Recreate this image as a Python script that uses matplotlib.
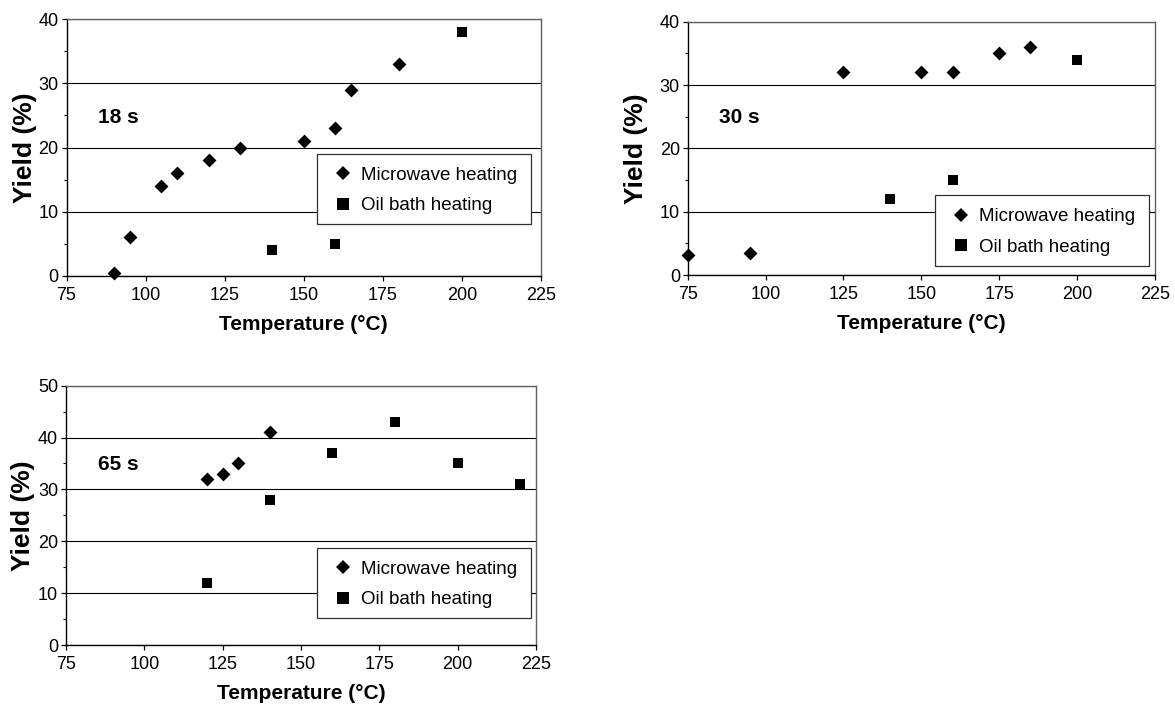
import matplotlib
matplotlib.use("Agg")
import matplotlib.pyplot as plt
from matplotlib.ticker import MultipleLocator
from matplotlib.patches import Rectangle
from matplotlib.lines import Line2D

plt.rcParams['font.family'] = ['Liberation Sans', 'DejaVu Sans']

# Panel 1: 18 s
mw18_t = [90, 95, 105, 110, 120, 130, 150, 160, 165, 180]
mw18_y = [0.5, 6, 14, 16, 18, 20, 21, 23, 29, 33]
oil18_t = [140, 160, 200]
oil18_y = [4, 5, 38]

# Panel 2: 30 s
mw30_t = [75, 95, 125, 150, 160, 175, 185]
mw30_y = [3.2, 3.4, 32, 32, 32, 35, 36]
oil30_t = [140, 160, 200]
oil30_y = [12, 15, 34]

# Panel 3: 65 s
mw65_t = [120, 125, 130, 140]
mw65_y = [32, 33, 35, 41]
oil65_t = [120, 140, 160, 180, 200, 220]
oil65_y = [12, 28, 37, 43, 35, 31]

labels = ["18 s", "30 s", "65 s"]
ymaxes = [40, 40, 50]
xticks = [75, 100, 125, 150, 175, 200, 225]
series_names = ["Microwave heating", "Oil bath heating"]

W, H = 1175, 704
fig = plt.figure(figsize=(W / 100, H / 100), dpi=100)

# layout (pixels): axes left, top, right, bottom
rects = [(66.5, 19, 541, 276), (687.7, 21.7, 1155, 275), (66, 385.7, 536, 645)]
# legend boxes (pixels): left, top, right, bottom
leg_px = [(316.7, 154, 530.7, 224), (934.6, 195, 1148.5, 265.7),
          (316.7, 547.7, 530.7, 618.3)]
# ylabel right-edge offset from axis (pixels)
ylab_off = [-29.5, -40, -31]
label_pos = [(85, 24.6), (84.9, 24.9), (85.3, 34.9)]

data = [(mw18_t, mw18_y, oil18_t, oil18_y),
        (mw30_t, mw30_y, oil30_t, oil30_y),
        (mw65_t, mw65_y, oil65_t, oil65_y)]

LEG_FS = 13.5
fs_px = LEG_FS * 100 / 72.0

for i, (l, t, r, b) in enumerate(rects):
    ax = fig.add_axes([l / W, 1 - b / H, (r - l) / W, (b - t) / H])
    mt, my, ot, oy = data[i]
    ax.set_xlim(75, 225)
    ax.set_ylim(0, ymaxes[i])
    ax.set_xticks(xticks)
    ax.yaxis.set_major_locator(MultipleLocator(10))
    ax.yaxis.set_minor_locator(MultipleLocator(5))
    ax.grid(axis='y', which='major', color='black', linewidth=0.8)
    ax.set_axisbelow(True)
    for s in ['top', 'right']:
        ax.spines[s].set_color('#606060')
        ax.spines[s].set_linewidth(1.0)
    for s in ['left', 'bottom']:
        ax.spines[s].set_color('black')
        ax.spines[s].set_linewidth(1.0)
    ax.tick_params(axis='both', which='major', direction='out', length=3.6,
                   width=0.9, labelsize=13)
    ax.tick_params(axis='y', which='major', pad=2)
    ax.tick_params(axis='x', which='major', pad=4)
    ax.tick_params(axis='y', which='minor', direction='out', length=2.5, width=0.8)
    ax.scatter(mt, my, marker='D', s=50, color='black', zorder=3,
               clip_on=False, linewidths=0)
    ax.scatter(ot, oy, marker='s', s=50, color='black', zorder=3,
               clip_on=False, linewidths=0)
    ax.set_xlabel("Temperature (°C)", fontsize=15, fontweight='bold', labelpad=8)
    ax.set_ylabel("Yield (%)", fontsize=19, fontweight='bold')
    ax.yaxis.set_label_coords(ylab_off[i] / (r - l), 0.5)
    lx, ly = label_pos[i]
    ax.text(lx, ly, labels[i], fontsize=15, fontweight='bold', va='center', ha='left')

    # legend frame
    bl, bt, br, bb = leg_px[i]
    rect = Rectangle((bl / 100, (H - bb) / 100), (br - bl) / 100, (bb - bt) / 100,
                     transform=fig.dpi_scale_trans, facecolor='white',
                     edgecolor='#303030', linewidth=0.9, zorder=4, clip_on=False)
    ax.add_patch(rect)
    handles = [Line2D([], [], marker='D', linestyle='none', color='black',
                      markersize=7.5, markeredgewidth=0),
               Line2D([], [], marker='s', linestyle='none', color='black',
                      markersize=8, markeredgewidth=0)]
    hl = 1.0
    x0 = bl + 26 - hl * fs_px / 2
    yc = (bt + bb) / 2 + 1.5
    leg = ax.legend(handles, series_names, loc='center left',
                    bbox_to_anchor=(x0 / 100, (H - yc) / 100),
                    bbox_transform=fig.dpi_scale_trans,
                    fontsize=LEG_FS, frameon=False, borderpad=0, borderaxespad=0,
                    handlelength=hl, handletextpad=0.46, labelspacing=0.72)
    leg.set_zorder(5)

fig.savefig("out.png", dpi=100, facecolor='white')
